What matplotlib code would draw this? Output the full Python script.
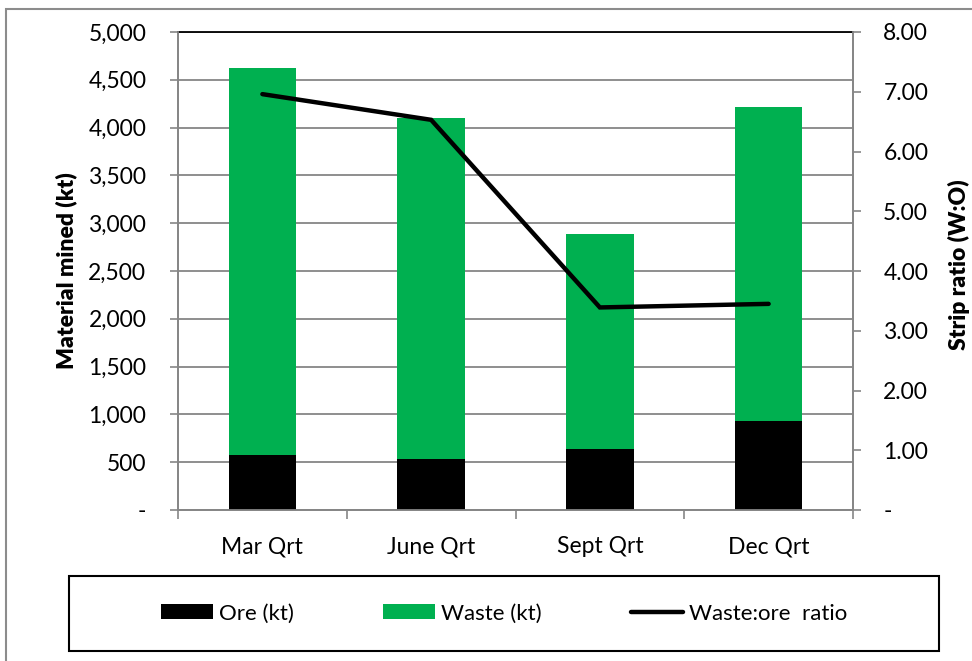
import matplotlib.pyplot as plt
from matplotlib.patches import Rectangle, Patch
from matplotlib.lines import Line2D
from matplotlib.ticker import FuncFormatter

plt.rcParams['font.family'] = ['Lato', 'DejaVu Sans']

quarters = ['Mar Qrt', 'June Qrt', 'Sept Qrt', 'Dec Qrt']
ore_kt = [571, 529, 641, 935]
waste_kt = [4050, 3568, 2246, 3284]
strip_ratio = [6.96, 6.53, 3.39, 3.45]

green = '#00B050'
grey = '#868686'
fs = 16.5

fig = plt.figure(figsize=(9.72, 6.61), dpi=100)
ax = fig.add_axes([178/972, 1-510/661, (853-178)/972, (510-32)/661])

x = list(range(len(quarters)))
ax.bar(x, ore_kt, width=0.4, color='black', zorder=3, label='Ore (kt)')
ax.bar(x, waste_kt, width=0.4, bottom=ore_kt, color=green, zorder=3, label='Waste (kt)')

ax.set_xlim(-0.5, 3.5)
ax.set_ylim(0, 5000)
ax.set_yticks(range(0, 5001, 500))
ax.yaxis.set_major_formatter(FuncFormatter(lambda v, p: '-' if v == 0 else f'{v:,.0f}'))
ax.grid(axis='y', color=grey, lw=1.3, zorder=0)
ax.set_axisbelow(True)

ax.set_xticks(x)
ax.set_xticklabels(quarters)
ax.set_xticks([-0.5, 0.5, 1.5, 2.5, 3.5], minor=True)
ax.tick_params(axis='x', which='major', length=0, pad=19, labelsize=fs)
ax.tick_params(axis='x', which='minor', length=6.5, width=1.2, color=grey, direction='out')
ax.tick_params(axis='y', length=5.8, width=1.2, color=grey, pad=17, labelsize=fs)

for s in ['left', 'bottom', 'right']:
    ax.spines[s].set_color(grey)
    ax.spines[s].set_linewidth(1.3)
ax.spines['top'].set_color('black')
ax.spines['top'].set_linewidth(1.3)

ax.set_ylabel('Material mined (kt)', fontsize=fs, fontweight='heavy', labelpad=8)

ax2 = ax.twinx()
ax2.plot(x, strip_ratio, color='black', lw=3.2, solid_capstyle='round',
         solid_joinstyle='miter', label='Waste:ore  ratio')
ax2.set_ylim(0, 8)
ax2.set_yticks(range(0, 9))
ax2.yaxis.set_major_formatter(FuncFormatter(lambda v, p: '-' if v == 0 else f'{v:.2f}'))
ax2.tick_params(axis='y', length=5.8, width=1.2, color=grey, pad=16, labelsize=fs)
for s in ['left', 'bottom', 'right']:
    ax2.spines[s].set_color(grey)
    ax2.spines[s].set_linewidth(1.3)
ax2.spines['top'].set_visible(False)

fig.text(959/972, 1-265/661, 'Strip ratio (W:O)', rotation=90, ha='center', va='center',
         fontsize=fs, fontweight='heavy')

# outer chart border
fig.patches.append(Rectangle((6/972, -0.05), 1.1, 1-9/661+0.05, transform=fig.transFigure,
                             fill=False, edgecolor='#8C8C8C', lw=1.5))
# legend frame
lx0, lx1, ly0, ly1 = 69/972, 939/972, 1-651/661, 1-576/661
fig.patches.append(Rectangle((lx0, ly0), lx1-lx0, ly1-ly0, transform=fig.transFigure,
                             fill=False, edgecolor='black', lw=1.5))

handles = [Patch(facecolor='black', label='Ore (kt)'),
           Patch(facecolor=green, label='Waste (kt)'),
           Line2D([0], [0], color='black', lw=3.2, solid_capstyle='round', label='Waste:ore  ratio')]
fig.legend(handles=handles, loc='center', bbox_to_anchor=(lx0, ly0, lx1-lx0, ly1-ly0),
           ncol=3, frameon=False, fontsize=16, handlelength=2.35, handleheight=0.65,
           handletextpad=0.27, columnspacing=4.0)

fig.savefig('out.png', dpi=100)
